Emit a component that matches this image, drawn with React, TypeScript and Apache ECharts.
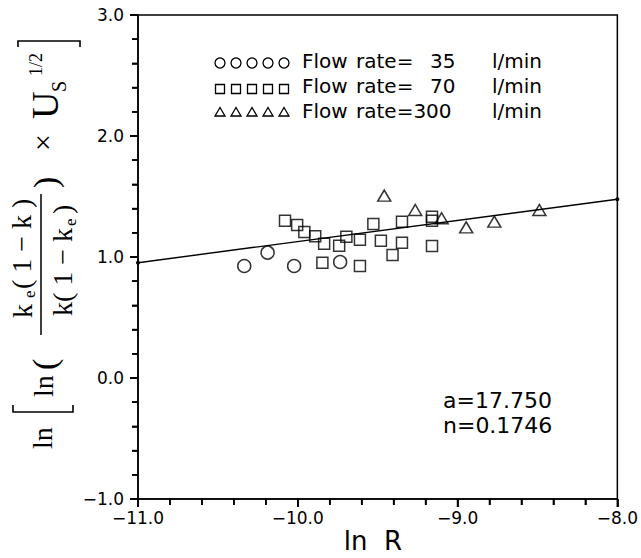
import React, { useEffect, useRef } from "react";
import * as echarts from "echarts";

// ---- data ----
const xRange = [-11.0, -8.0];
const yRange = [-1.0, 3.0];
const xTickStep = 1.0;
const yTickStep = 1.0;

// tick positions (major / minor) of the two axes
const xMajorTicks = [-11.0, -10.0, -9.0, -8.0];
const xMinorTicks = [-10.8, -10.6, -10.4, -10.2, -9.8, -9.6, -9.4, -9.2, -8.8, -8.6, -8.4, -8.2];
const yMajorTicks = [-1.0, 0.0, 1.0, 2.0, 3.0];
const yMinorTicks = [-0.8, -0.6, -0.4, -0.2, 0.2, 0.4, 0.6, 0.8, 1.2, 1.4, 1.6, 1.8, 2.2, 2.4, 2.6, 2.8];

const flow35: number[][] = [
  [-10.335, 0.926],
  [-10.189, 1.036],
  [-10.023, 0.926],
  [-9.735, 0.959],
];

const flow70: number[][] = [
  [-10.08, 1.3],
  [-10.004, 1.264],
  [-9.959, 1.207],
  [-9.891, 1.171],
  [-9.835, 1.11],
  [-9.741, 1.093],
  [-9.696, 1.168],
  [-9.611, 1.143],
  [-9.527, 1.273],
  [-9.48, 1.135],
  [-9.407, 1.017],
  [-9.348, 1.292],
  [-9.348, 1.118],
  [-9.846, 0.953],
  [-9.611, 0.926],
  [-9.16, 1.333],
  [-9.16, 1.3],
  [-9.16, 1.091],
];

const flow300: number[][] = [
  [-9.459, 1.507],
  [-9.265, 1.388],
  [-9.1, 1.32],
  [-8.946, 1.245],
  [-8.77, 1.292],
  [-8.488, 1.388],
];

const fitLine: number[][] = [
  [-11.0, 0.953],
  [-8.0, 1.477],
];

const legendRates = ["35", "70", "300"];
const paramLines = ["a=17.750", "n=0.1746"];

const MINUS = "\u2212";
const fmt = (v: number) => v.toFixed(1).replace("-", MINUS);

const SERIF = "'Liberation Serif', 'DejaVu Serif', serif";
const SANS = "'DejaVu Sans', sans-serif";

function vtext(x: number, y: number, text: string, size: number) {
  return {
    type: "text",
    x,
    y,
    rotation: Math.PI / 2,
    style: {
      text,
      fontSize: size,
      fontFamily: SERIF,
      fill: "#000",
      align: "left",
      verticalAlign: "middle",
    },
  };
}

function buildGraphic() {
  const g: any[] = [];
  // ---- y axis title (rotated) ----
  g.push(vtext(42, 449, "ln", 28));
  g.push({
    type: "polyline",
    shape: { points: [[13, 405], [13, 412], [73, 412], [73, 405]] },
    style: { stroke: "#000", lineWidth: 1.6, fill: null },
  });
  g.push(vtext(43, 397, "ln", 28));
  g.push(vtext(44, 370, "(", 34));
  // numerator
  g.push(vtext(22, 318, "k", 28));
  g.push(vtext(29, 298, "e", 17));
  g.push(vtext(21, 289, "( 1 \u2212 k )", 28));
  // fraction bar
  g.push({
    type: "line",
    shape: { x1: 41, y1: 335, x2: 41, y2: 194 },
    style: { stroke: "#000", lineWidth: 1.5 },
  });
  // denominator
  g.push(vtext(62, 316, "k( 1 \u2212 k", 28));
  g.push(vtext(70, 226, "e", 17));
  g.push(vtext(62, 214, ")", 28));
  g.push(vtext(45, 188, ")", 34));
  g.push(vtext(42, 151, "\u00d7", 30));
  g.push(vtext(45, 119, "U", 38));
  g.push(vtext(59, 92, "S", 20));
  g.push(vtext(36, 76, "1/2", 18));
  g.push({
    type: "polyline",
    shape: { points: [[18, 47], [18, 41], [80, 41], [80, 47]] },
    style: { stroke: "#000", lineWidth: 1.6, fill: null },
  });

  // ---- x axis title ----
  g.push({
    type: "text",
    x: 373,
    y: 541,
    style: {
      text: "ln  R",
      fontSize: 26,
      fontFamily: SANS,
      fill: "#000",
      align: "center",
      verticalAlign: "middle",
    },
  });

  // ---- legend ----
  const rowText = [61, 86, 111];
  const rowMark = [63, 89, 112];
  for (let r = 0; r < 3; r++) {
    for (let i = 0; i < 5; i++) {
      const cx = 220 + i * 16;
      const cy = rowMark[r];
      const st = { stroke: "#000", lineWidth: 1.3, fill: null };
      if (r === 0) g.push({ type: "circle", shape: { cx, cy, r: 5 }, style: st });
      else if (r === 1)
        g.push({ type: "rect", shape: { x: cx - 4.5, y: cy - 4.5, width: 9, height: 9 }, style: st });
      else
        g.push({
          type: "polygon",
          shape: { points: [[cx, cy - 4.5], [cx + 5, cy + 4], [cx - 5, cy + 4]] },
          style: st,
        });
    }
    const ts = (x: number, text: string) => ({
      type: "text",
      x,
      y: rowText[r],
      style: { text, fontSize: 20, fontFamily: SANS, fill: "#000", align: "left", verticalAlign: "middle" },
    });
    g.push(ts(302, "Flow"));
    if (r < 2) {
      g.push(ts(356, "rate="));
      g.push(ts(430, legendRates[r]));
    } else {
      g.push(ts(356, "rate=" + legendRates[r]));
    }
    g.push(ts(492, "l/min"));
  }

  // ---- fit parameters ----
  paramLines.forEach((t, i) => {
    g.push({
      type: "text",
      x: 443,
      y: 400 + i * 25,
      style: { text: t, fontSize: 22, fontFamily: SANS, fill: "#000", align: "left", verticalAlign: "middle" },
    });
  });
  return g;
}

// tick marks data: [value, kind] ; kind 0 = x major, 1 = x minor, 2 = y major, 3 = y minor
const tickData: number[][] = [
  ...xMajorTicks.map((v) => [v, 0]),
  ...xMinorTicks.map((v) => [v, 1]),
  ...yMajorTicks.map((v) => [v, 2]),
  ...yMinorTicks.map((v) => [v, 3]),
];

export default function App() {
  const ref = useRef<HTMLDivElement>(null);
  useEffect(() => {
    if (!ref.current) return;
    const chart = echarts.init(ref.current, undefined, { renderer: "svg" });
    const markerStyle = { color: "rgba(0,0,0,0)", borderColor: "#000", borderWidth: 1.5 };
    chart.setOption({
      animation: false,
      backgroundColor: "#fff",
      grid: {
        left: 138,
        right: 17,
        top: 15,
        bottom: 59,
        show: true,
        borderColor: "#000",
        borderWidth: 1.5,
        backgroundColor: "transparent",
      },
      xAxis: {
        type: "value",
        min: xRange[0],
        max: xRange[1],
        interval: xTickStep,
        axisLine: { show: true, onZero: false, lineStyle: { color: "#000", width: 1.5 } },
        axisTick: { show: true, inside: false, length: 8, lineStyle: { color: "#000", width: 1.8 } },
        minorTick: { show: true, splitNumber: 5, length: 6, lineStyle: { color: "#000", width: 1.6 } },
        splitLine: { show: false },
        axisLabel: {
          formatter: fmt,
          fontSize: 17,
          fontFamily: SANS,
          color: "#000",
          margin: 10,
          showMinLabel: true,
          showMaxLabel: true,
        },
      },
      yAxis: {
        type: "value",
        min: yRange[0],
        max: yRange[1],
        interval: yTickStep,
        axisLine: { show: true, onZero: false, lineStyle: { color: "#000", width: 1.5 } },
        axisTick: { show: true, inside: false, length: 8, lineStyle: { color: "#000", width: 1.8 } },
        minorTick: { show: true, splitNumber: 5, length: 6, lineStyle: { color: "#000", width: 1.6 } },
        splitLine: { show: false },
        axisLabel: {
          formatter: fmt,
          fontSize: 17,
          fontFamily: SANS,
          color: "#000",
          margin: 14,
          showMinLabel: true,
          showMaxLabel: true,
        },
      },
      series: [
        {
          type: "custom",
          silent: true,
          clip: false,
          z: 100,
          data: tickData,
          encode: { x: 0 },
          renderItem: (_params: any, api: any) => {
            const v = api.value(0);
            const kind = api.value(1);
            const len = kind === 0 || kind === 2 ? 8 : 6;
            if (kind < 2) {
              const p = api.coord([v, yRange[0]]);
              return {
                type: "rect",
                shape: { x: p[0] - 0.8, y: p[1], width: 1.6, height: len },
                style: { fill: "#000" },
              };
            }
            const p = api.coord([xRange[0], v]);
            return {
              type: "rect",
              shape: { x: p[0] - len, y: p[1] - 0.8, width: len, height: 1.6 },
              style: { fill: "#000" },
            };
          },
        },
        {
          type: "line",
          data: fitLine,
          symbol: "circle",
          symbolSize: 4,
          itemStyle: { color: "#000" },
          lineStyle: { color: "#000", width: 1.4 },
          silent: true,
        },
        {
          type: "scatter",
          data: flow35,
          symbol: "circle",
          symbolSize: 13,
          itemStyle: markerStyle,
        },
        {
          type: "scatter",
          data: flow70,
          symbol: "rect",
          symbolSize: 11,
          itemStyle: markerStyle,
        },
        {
          type: "scatter",
          data: flow300,
          symbol: "triangle",
          symbolSize: [13, 11],
          itemStyle: markerStyle,
        },
      ],
      graphic: buildGraphic(),
    });
    return () => chart.dispose();
  }, []);
  return (
    <div
      ref={ref}
      style={{ position: "fixed", left: 0, top: 0, width: 641, height: 558, background: "#fff" }}
    />
  );
}
